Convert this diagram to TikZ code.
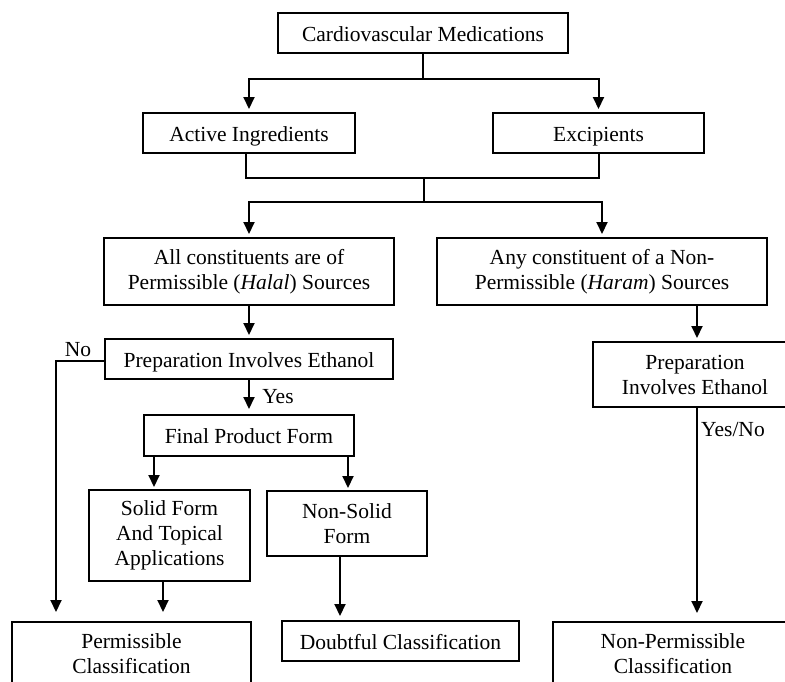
\documentclass[tikz,border=0pt]{standalone}
\usepackage{fontspec}
\setmainfont{Liberation Serif}
\usetikzlibrary{arrows.meta}
\begin{document}
\begin{tikzpicture}[x=1pt,y=-1pt,
  box/.style={draw, line width=2pt, inner sep=0pt, align=center, font=\fontsize{21.5}{25}\selectfont},
  one/.style={text height=18pt, text depth=2pt},
  lbl/.style={inner sep=0pt, font=\fontsize{21.5}{25}\selectfont},
  conn/.style={line width=2pt},
  arr/.style={line width=2pt, -{Triangle[width=11pt,length=12pt]}, shorten >=3pt}]
\useasboundingbox (0,0) rectangle (785,681);
% nodes
\node[box, one, minimum width=290pt, minimum height=40pt] (top) at (423,33) {Cardiovascular Medications};
\node[box, one, minimum width=212pt, minimum height=40pt] (act) at (249,133) {Active Ingredients};
\node[box, one, minimum width=211pt, minimum height=40pt] (exc) at (598.5,133) {Excipients};
\node[box, minimum width=290pt, minimum height=67pt] (all) at (249,271.5) {All constituents are of\\Permissible (\textit{Halal}) Sources};
\node[box, minimum width=330pt, minimum height=67pt] (any) at (602,271.5) {Any constituent of a Non-\\Permissible (\textit{Haram}) Sources};
\node[box, one, minimum width=288pt, minimum height=40pt] (prepL) at (249,359) {Preparation Involves Ethanol};
\node[box, minimum width=204pt, minimum height=65pt] (prepR) at (695,374.5) {Preparation\\Involves Ethanol};
\node[box, one, minimum width=210pt, minimum height=41pt] (fin) at (249,435.5) {Final Product Form};
\node[box, minimum width=161pt, minimum height=91pt] (solid) at (169.5,535.5) {Solid Form\\And Topical\\Applications};
\node[box, minimum width=160pt, minimum height=65pt] (nsolid) at (347,523.5) {Non-Solid\\Form};
\node[box, minimum width=239pt, minimum height=64pt] (perm) at (131.5,654) {Permissible\\Classification};
\node[box, one, minimum width=237pt, minimum height=40pt] (doubt) at (400.5,641) {Doubtful Classification};
\node[box, minimum width=240pt, minimum height=64pt] (nperm) at (673,654) {Non-Permissible\\Classification};
% labels
\node[lbl] (no) at (78,350) {No};
\node[lbl] (yes) at (278,397) {Yes};
\node[lbl] (yesno) at (733,430) {Yes/No};
% connectors
\coordinate (j1) at ([yshift=-25pt]top.south);
\draw[conn] (top.south) -- (j1);
\draw[arr] (j1) -| (act.north);
\draw[arr] (j1) -| (exc.north);
\coordinate (a1) at ([xshift=-3pt]act.south);
\coordinate (j2) at (424,178);
\coordinate (j3) at (424,202);
\draw[conn] (a1) |- (j2) -| (exc.south);
\draw[conn] (j2) -- (j3);
\draw[arr] (j3) -| (all.north);
\draw[arr] (j3) -| (any.north);
\draw[arr] (all.south) -- (prepL.north);
\coordinate (nt) at (56,361);
\coordinate (ps) at (prepL.west);
\draw[arr, shorten >=9pt] (ps |- nt) -- (nt) -- (nt |- perm.north);
\draw[arr, shorten >=5pt] (prepL.south) -- (fin.north);
\coordinate (f1) at ([xshift=-95pt]fin.south);
\coordinate (f2) at ([xshift=99pt]fin.south);
\draw[arr, shorten >=2pt] (f1) -- (f1 |- solid.north);
\draw[arr, shorten >=2pt] (f2) -- (f2 |- nsolid.north);
\coordinate (s1) at ([xshift=-6.5pt]solid.south);
\draw[arr, shorten >=9pt] (s1) -- (s1 |- perm.north);
\coordinate (n1) at ([xshift=-7pt]nsolid.south);
\draw[arr, shorten >=4pt] (n1) -- (n1 |- doubt.north);
\coordinate (r1) at (697,0);
\draw[arr] (r1 |- any.south) -- (r1 |- prepR.north);
\draw[arr, shorten >=8pt] (r1 |- prepR.south) -- (r1 |- nperm.north);
\end{tikzpicture}
\end{document}
